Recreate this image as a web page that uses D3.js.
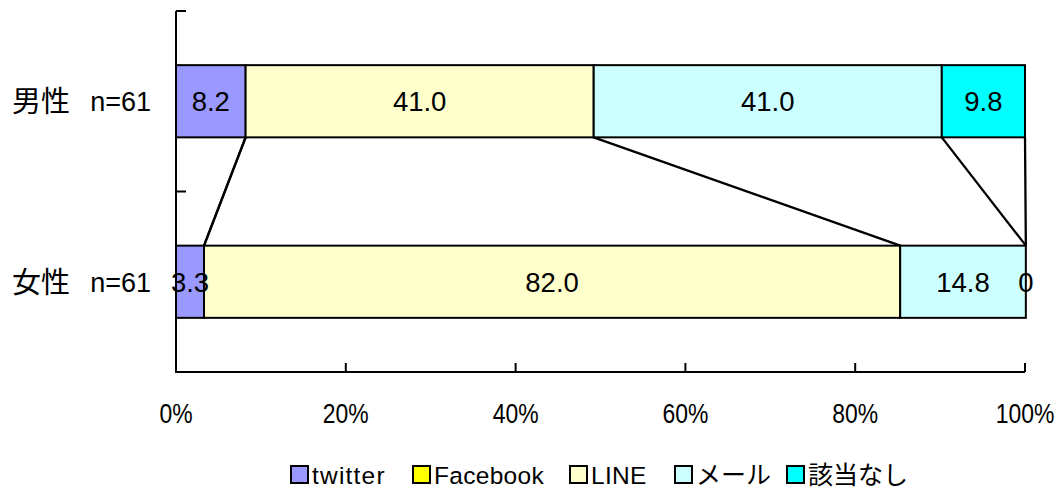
<!DOCTYPE html>
<html>
<head>
<meta charset="utf-8">
<script src="https://cdn.jsdelivr.net/npm/d3@7"></script>
<style>
  html, body { margin: 0; padding: 0; background: #fff; }
  svg { display: block; }
  text { font-family: "Liberation Sans", Arial, "Noto Sans CJK JP", sans-serif; fill: #000; }
  .jp { font-family: "Noto Sans CJK JP", "Liberation Sans", sans-serif; }
</style>
</head>
<body>
<svg id="chart" width="1062" height="491"></svg>
<script>
// Respondent groups (top to bottom)
const groups = ["男性", "女性"];
const groupN = ["n=61", "n=61"];
// Series names and percentage shares per group
const seriesNames = ["twitter", "Facebook", "LINE", "メール", "該当なし"];
const twitter  = [8.2, 3.3];
const facebook = [0, 0];
const line     = [41.0, 82.0];
const mail     = [41.0, 14.8];
const none     = [9.8, 0];
const xTicks   = [0, 20, 40, 60, 80, 100];

const seriesValues = [twitter, facebook, line, mail, none];
const colors = ["#9999FF", "#FFFF00", "#FFFFCC", "#CCFFFF", "#00FFFF"];
// Series whose value labels are drawn
const labelled = [true, false, true, true, true];
// Legend item left edges
const legendX = [291, 413, 570, 675, 787];

const svg = d3.select("#chart");
const x = d3.scaleLinear().domain([0, 100]).range([176, 1025]);
const y = d3.scaleBand().domain(groups).range([11, 372])
  .paddingInner(0.6).paddingOuter(0.3);

// Stack the series per group
const rows = groups.map((g, i) => {
  const r = { group: g };
  seriesNames.forEach((s, j) => { r[s] = seriesValues[j][i]; });
  return r;
});
const stacked = d3.stack().keys(seriesNames)(rows);

// Connector lines between the two bars at each series boundary
const conn = svg.append("g");
stacked.forEach(layer => {
  const a = layer[0], b = layer[1];
  conn.append("line")
    .attr("x1", x(a[1])).attr("y1", y(groups[0]) + y.bandwidth())
    .attr("x2", x(b[1])).attr("y2", y(groups[1]))
    .attr("stroke", "#000").attr("stroke-width", 2.3);
});

// Bars
const bars = svg.append("g");
stacked.forEach((layer, j) => {
  bars.selectAll(null).data(layer).enter().append("rect")
    .attr("x", d => x(d[0]))
    .attr("y", (d, i) => y(groups[i]))
    .attr("width", d => x(d[1]) - x(d[0]))
    .attr("height", y.bandwidth())
    .attr("fill", colors[j])
    .attr("stroke", "#000")
    .attr("stroke-width", 2);
});

// Value labels
const labels = svg.append("g");
stacked.forEach((layer, j) => {
  if (!labelled[j]) return;
  labels.selectAll(null).data(layer).enter().append("text")
    .attr("x", d => x((d[0] + d[1]) / 2))
    .attr("y", (d, i) => y(groups[i]) + y.bandwidth() / 2 + 10)
    .attr("text-anchor", "middle")
    .attr("font-size", 27.5)
    .text(d => {
      const v = d[1] - d[0];
      return v === 0 ? "0" : v.toFixed(1);
    });
});

// Axes
const axes = svg.append("g").attr("stroke", "#000").attr("stroke-width", 2);
axes.append("line").attr("x1", x(0)).attr("x2", x(0)).attr("y1", 11).attr("y2", 373);
axes.append("line").attr("x1", x(0) - 1).attr("x2", x(100)).attr("y1", 372).attr("y2", 372);
// Group boundary ticks on the vertical axis
[0, 1, 2].forEach(k => {
  const yy = 11 + k * (372 - 11) / 2;
  axes.append("line").attr("x1", x(0)).attr("x2", x(0) + 10).attr("y1", yy).attr("y2", yy);
});
// Percentage ticks on the horizontal axis
xTicks.forEach(t => {
  axes.append("line").attr("x1", x(t)).attr("x2", x(t)).attr("y1", 372).attr("y2", 363);
});
svg.append("g").selectAll(null).data(xTicks).enter().append("text")
  .attr("x", d => x(d))
  .attr("y", 423)
  .attr("text-anchor", "middle")
  .attr("font-size", 27)
  .attr("transform", d => `translate(${x(d)},0) scale(0.85,1) translate(${-x(d)},0)`)
  .text(d => d + "%");

// Group labels: name and sample size
const gl = svg.append("g");
groups.forEach((g, i) => {
  const cy = y(g) + y.bandwidth() / 2 + 10;
  gl.append("text").attr("class", "jp")
    .attr("x", 12).attr("y", cy + 1)
    .attr("font-size", 29)
    .text(g);
  gl.append("text")
    .attr("x", 151).attr("y", cy)
    .attr("text-anchor", "end")
    .attr("font-size", 27)
    .text(groupN[i]);
});

// Legend
const legend = svg.append("g");
seriesNames.forEach((s, j) => {
  const lx = legendX[j];
  legend.append("rect")
    .attr("x", lx).attr("y", 466).attr("width", 17).attr("height", 17)
    .attr("fill", colors[j]).attr("stroke", "#000").attr("stroke-width", 2);
  legend.append("text")
    .attr("class", j < 3 ? null : "jp")
    .attr("x", lx + 21).attr("y", 484)
    .attr("font-size", j < 3 ? 24.5 : 25)
    .attr("letter-spacing", j === 0 ? 1.2 : (j < 3 ? 0.3 : 0))
    .text(s);
});
</script>
</body>
</html>
